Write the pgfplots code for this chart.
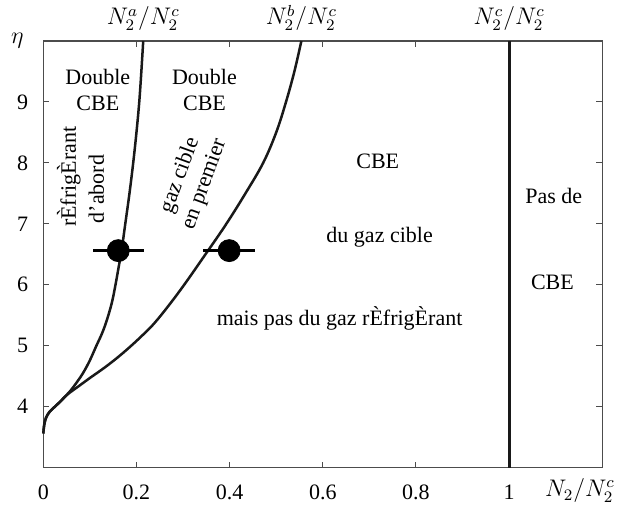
\documentclass[border=0pt]{standalone}
\usepackage{fontspec}
\setmainfont{Liberation Serif}
\usepackage{pgfplots}
\pgfplotsset{compat=1.18}

\begin{document}
\begin{tikzpicture}[font=\fontsize{11}{13}\selectfont]
\begin{axis}[%
name=ax,
width=279.5pt,
height=213.3pt,
scale only axis,
xmin=0, xmax=1.2,
ymin=3, ymax=10,
xtick={0,0.2,0.4,0.6,0.8,1},
xticklabels={0,0.2,0.4,0.6,0.8,1},
ytick={4,5,6,7,8,9},
tick align=inside,
tick pos=both,
major tick length=3pt,
axis line style={black!70, line width=0.7pt},
tick style={black!70, line width=0.5pt},
/pgf/number format/assume math mode=true,
xticklabel shift=5pt,
yticklabel shift=4pt,
clip=false
]

% N2^a / N2^c boundary
\addplot [black!90, line width=1.25pt, smooth, tension=0.6]
coordinates {
(0,3.56) (0.002,3.7) (0.006,3.82) (0.014,3.92) (0.025,4.0)
(0.036,4.08) (0.057,4.25) (0.072,4.4) (0.086,4.56) (0.100,4.76)
(0.114,5.0) (0.126,5.2) (0.136,5.41) (0.147,5.7) (0.155,6.0)
(0.162,6.3) (0.168,6.56) (0.176,7.0) (0.185,7.5) (0.193,8.0)
(0.200,8.5) (0.206,9.0) (0.2105,9.5) (0.2145,10)
};

% N2^b / N2^c boundary
\addplot [black!90, line width=1.25pt, smooth, tension=0.6]
coordinates {
(0,3.56) (0.002,3.7) (0.006,3.82) (0.014,3.92) (0.025,4.0)
(0.036,4.08) (0.052,4.2) (0.075,4.33) (0.100,4.47) (0.135,4.66)
(0.171,4.88) (0.210,5.15) (0.243,5.41) (0.293,5.9) (0.350,6.52)
(0.393,7.0) (0.434,7.5) (0.472,8.0) (0.500,8.5) (0.521,9.0)
(0.539,9.5) (0.554,10)
};

% N2^c / N2^c
\addplot [black!90, line width=1.5pt] coordinates {(1,3) (1,10)};

% measured points
\addplot [only marks, mark=*, mark size=5.5pt, black,
  error bars/.cd, x dir=both, x explicit,
  error bar style={line width=1.5pt}, error mark=none]
coordinates {
(0.161,6.56) +- (0.055,0)
(0.399,6.56) +- (0.056,0)
};

% top labels
\node [anchor=base, yshift=8pt, font=\fontsize{12}{14}\selectfont] at (axis cs:0.2145,10) {$N_2^a/N_2^c$};
\node [anchor=base, yshift=8pt, font=\fontsize{12}{14}\selectfont] at (axis cs:0.554,10) {$N_2^b/N_2^c$};
\node [anchor=base, yshift=8pt, font=\fontsize{12}{14}\selectfont] at (axis cs:1,10) {$N_2^c/N_2^c$};
\node [xshift=-13pt, font=\fontsize{12}{14}\selectfont] at (rel axis cs:0,1) {$\eta$};
\node [anchor=base, yshift=-14.5pt, font=\fontsize{12}{14}\selectfont] at (rel axis cs:0.96,0) {$N_2/N_2^c$};

% region labels
\node [align=center] at (axis cs:0.117,9.19) {Double\\CBE};
\node [align=center] at (axis cs:0.346,9.19) {Double\\CBE};
\node [rotate=90] at (axis cs:0.055,7.77) {rÈfrigÈrant};
\node [rotate=90] at (axis cs:0.114,7.57) {d\symbol{39}abord};
\node [align=center, rotate=70] at (axis cs:0.32,7.72) {gaz cible\\en premier};
\node at (axis cs:0.718,8.03) {CBE};
\node at (axis cs:0.722,6.78) {du gaz cible};
\node at (axis cs:0.636,5.45) {mais pas du gaz rÈfrigÈrant};
\node at (axis cs:1.096,7.45) {Pas de};
\node at (axis cs:1.093,6.04) {CBE};
\end{axis}
\path (ax.south west) ++(-21.65pt,-23.15pt) coordinate (bl);
\path (ax.north east) ++(7.85pt,20.5pt) coordinate (tr);
\pgfresetboundingbox
\path[use as bounding box] (bl) rectangle (tr);
\end{tikzpicture}
\end{document}
